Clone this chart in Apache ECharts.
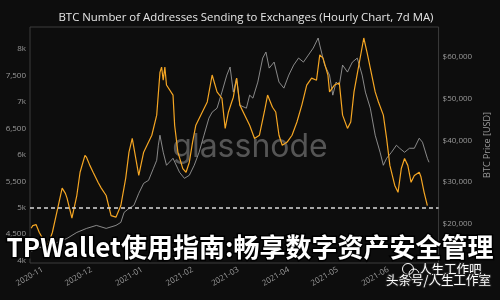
<!DOCTYPE html>
<html><head><meta charset="utf-8">
<script src="https://cdn.jsdelivr.net/npm/echarts@6/dist/echarts.min.js"></script>
<style>html,body{margin:0;padding:0;background:#0d0d0d;}#c{width:500px;height:300px;}</style>
</head><body><div id="c"></div>
<script>
// ---- data ----
var addrDates = ['2020-10-25','2020-10-26','2020-10-28','2020-10-30','2020-11-01','2020-11-03','2020-11-07','2020-11-10','2020-11-13','2020-11-15','2020-11-16','2020-11-19','2020-11-22','2020-11-24','2020-11-27','2020-11-28','2020-11-30','2020-12-02','2020-12-05','2020-12-07','2020-12-10','2020-12-13','2020-12-16','2020-12-19','2020-12-22','2020-12-24','2020-12-26','2020-12-27','2020-12-30','2021-01-02','2021-01-07','2021-01-10','2021-01-12','2021-01-13','2021-01-14','2021-01-15','2021-01-16','2021-01-20','2021-01-21','2021-01-23','2021-01-26','2021-01-28','2021-01-30','2021-02-01','2021-02-03','2021-02-06','2021-02-10','2021-02-13','2021-02-16','2021-02-19','2021-02-21','2021-02-23','2021-02-25','2021-02-26','2021-02-28','2021-03-02','2021-03-05','2021-03-08','2021-03-11','2021-03-14','2021-03-17','2021-03-19','2021-03-22','2021-03-24','2021-03-26','2021-03-28','2021-03-31','2021-04-03','2021-04-06','2021-04-09','2021-04-12','2021-04-15','2021-04-18','2021-04-20','2021-04-22','2021-04-25','2021-04-26','2021-04-29','2021-05-02','2021-05-04','2021-05-07','2021-05-09','2021-05-11','2021-05-14','2021-05-17','2021-05-19','2021-05-21','2021-05-24','2021-05-26','2021-05-29','2021-05-31','2021-06-02','2021-06-05','2021-06-07','2021-06-09','2021-06-11','2021-06-13','2021-06-15','2021-06-17','2021-06-20','2021-06-21','2021-06-23','2021-06-25'];
var addrValues = [4610,4660,4680,4530,4420,4190,4530,4950,5370,5270,5180,4800,5230,5670,5990,5950,5800,5670,5480,5370,5230,4850,4820,5040,5560,6050,6310,6280,5610,6050,6370,6750,7560,7660,7410,7660,7320,7130,6560,6050,5740,5670,5860,6240,6560,6750,7000,7510,7190,7070,6500,6810,7000,7090,7450,6940,6750,6560,6310,6370,6810,7130,6900,6810,6370,6180,6240,6370,6620,6940,7320,7450,7410,7890,7830,7510,7190,7320,7360,6750,6500,6620,7190,7700,8210,7940,7640,7190,7000,6750,6310,5800,5420,5290,5740,5930,5800,5480,5610,5670,5590,5290,5040];

var priceDates = ['2020-10-25','2020-10-30','2020-11-04','2020-11-10','2020-11-16','2020-11-22','2020-11-28','2020-12-04','2020-12-10','2020-12-16','2020-12-19','2020-12-21','2020-12-24','2020-12-27','2020-12-30','2021-01-02','2021-01-05','2021-01-08','2021-01-10','2021-01-11','2021-01-12','2021-01-14','2021-01-16','2021-01-20','2021-01-24','2021-01-27','2021-01-30','2021-02-02','2021-02-05','2021-02-08','2021-02-11','2021-02-13','2021-02-16','2021-02-19','2021-02-22','2021-02-24','2021-02-26','2021-02-28','2021-03-02','2021-03-06','2021-03-08','2021-03-10','2021-03-13','2021-03-16','2021-03-18','2021-03-20','2021-03-23','2021-03-26','2021-03-29','2021-04-01','2021-04-04','2021-04-07','2021-04-10','2021-04-13','2021-04-16','2021-04-19','2021-04-20','2021-04-23','2021-04-26','2021-04-28','2021-04-30','2021-05-02','2021-05-04','2021-05-07','2021-05-10','2021-05-13','2021-05-16','2021-05-18','2021-05-21','2021-05-24','2021-05-27','2021-05-29','2021-05-31','2021-06-03','2021-06-06','2021-06-08','2021-06-11','2021-06-14','2021-06-17','2021-06-20','2021-06-22','2021-06-25','2021-06-26'];
var priceValues = [13250,14220,14460,15420,16390,17830,18800,19520,18800,19520,20240,22650,23610,24340,27230,29640,30360,33250,35180,38800,41200,37110,33980,35660,32290,30840,31570,33980,37110,41200,45300,46750,47710,51570,55660,57590,51570,54940,48430,47710,50840,50120,53980,59760,61200,57350,58790,53980,52530,55660,58070,59760,58790,60480,62170,64580,62890,58070,55660,50840,53980,53250,58070,56390,58790,59760,55660,51570,47710,41200,37110,33980,35660,37110,38800,38070,37110,38070,38070,40480,39520,35660,34700];

var leftTickValues = [4000,4500,5000,5500,6000,6500,7000,7500,8000];
var leftTickLabels = ['4k','4,500','5k','5,500','6k','6,500','7k','7,500','8k'];
var rightTickValues = [20000,30000,40000,50000,60000];
var rightTickLabels = ['$20,000','$30,000','$40,000','$50,000','$60,000'];
var monthTicks = ['2020-11-01','2020-12-01','2021-01-01','2021-02-01','2021-03-01','2021-04-01','2021-05-01','2021-06-01'];
var monthLabels = ['2020-11','2020-12','2021-01','2021-02','2021-03','2021-04','2021-05','2021-06'];
var thresholdValue = 5000;

var titleText = 'BTC Number of Addresses Sending to Exchanges (Hourly Chart, 7d MA)';
var rightAxisName = 'BTC Price [USD]';
var watermarkText = 'glassnode';
var overlayText = 'TPWallet使用指南:畅享数字资产安全管理';
var brandLine1 = '人生工作吧';
var brandLine2 = '头条号/人生工作室';

// ---- helpers ----
function ts(s){
  var p = s.split(/[- :]/).map(Number);
  return new Date(p[0], p[1]-1, p[2], p[3]||0, p[4]||0).getTime();
}
function pairs(d, v){ return d.map(function(x,i){ return [ts(x), v[i]]; }); }
var monthTickTs = monthTicks.map(ts);

var chart = echarts.init(document.getElementById('c'), null, {renderer:'canvas'});
var labelFont = 'Open Sans';
chart.setOption({
  backgroundColor: '#0d0d0d',
  animation: false,
  title: {
    text: titleText, left: 241, textAlign: 'center', top: 7,
    textStyle: {color: '#e6e6e6', fontSize: 11.4, fontWeight: 'normal', fontFamily: labelFont}
  },
  grid: {left: 30, right: 48, top: 27, bottom: 37, show: true, borderColor: '#3c3c3c', borderWidth: 1},
  xAxis: {
    type: 'value', scale: true,
    min: ts('2020-10-24 07:00'), max: ts('2021-07-01 21:00'),
    axisLine: {show: false}, axisTick: {show: false}, splitLine: {show: false},
    axisLabel: {
      customValues: monthTickTs,
      rotate: 30, margin: 6, color: '#9a9a9a', fontSize: 8, fontFamily: labelFont,
      formatter: function(v){ var i = monthTickTs.indexOf(v); return i >= 0 ? monthLabels[i] : ''; }
    }
  },
  yAxis: [{
    type: 'value', position: 'left', min: 3953, max: 8418,
    axisLine: {show: false}, axisTick: {show: false}, splitLine: {show: false},
    axisLabel: {
      customValues: leftTickValues, margin: 4, color: '#9a9a9a', fontSize: 8, fontFamily: labelFont,
      formatter: function(v){ var i = leftTickValues.indexOf(v); return i >= 0 ? leftTickLabels[i] : ''; }
    }
  },{
    type: 'value', position: 'right', min: 10480, max: 67230,
    name: rightAxisName, nameLocation: 'middle', nameGap: 32, nameRotate: 90,
    nameTextStyle: {color: '#9a9a9a', fontSize: 9, fontFamily: labelFont},
    axisLine: {show: false}, axisTick: {show: false}, splitLine: {show: false},
    axisLabel: {
      customValues: rightTickValues, margin: 4, color: '#9a9a9a', fontSize: 8, fontFamily: labelFont,
      formatter: function(v){ var i = rightTickValues.indexOf(v); return i >= 0 ? rightTickLabels[i] : ''; }
    }
  }],
  series: [{
    type: 'line', yAxisIndex: 1, data: pairs(priceDates, priceValues),
    showSymbol: false, z: 2,
    lineStyle: {color: '#a8a8a8', width: 1, opacity: 0.8}
  },{
    type: 'line', yAxisIndex: 0, data: pairs(addrDates, addrValues),
    showSymbol: false, z: 3,
    lineStyle: {color: '#f5a623', width: 1.2},
    markLine: {
      silent: true, symbol: 'none', label: {show: false},
      lineStyle: {color: '#d8d8d8', type: [4,3], width: 1.5},
      data: [{yAxis: thresholdValue}]
    }
  }],
  graphic: [{
    type: 'text', left: 'center', top: 131, z: 0, silent: true,
    style: {text: watermarkText, fill: '#555555', fontSize: 32, fontFamily: 'Inter', fontWeight: 'normal'}
  },{
    type: 'text', left: 'center', top: 233, z: 100, silent: true,
    style: {text: overlayText, fill: '#ffffff', stroke: '#000000', lineWidth: 3,
            fontSize: 26, fontWeight: 'bold', fontFamily: 'Noto Sans CJK SC'}
  },{
    type: 'group', left: 400, top: 261, z: 100, silent: true,
    children: [
      {type: 'circle', shape: {cx: 6, cy: 6, r: 5.5}, style: {fill: 'none', stroke: '#ffffff', lineWidth: 1}},
      {type: 'circle', shape: {cx: 12, cy: 11, r: 5}, style: {fill: 'none', stroke: '#ffffff', lineWidth: 1}}
    ]
  },{
    type: 'text', left: 418, top: 262, z: 100, silent: true,
    style: {text: brandLine1, fill: '#ffffff', stroke: '#222222', lineWidth: 2, fontSize: 12.5, fontFamily: 'Noto Sans CJK SC'}
  },{
    type: 'text', left: 385, top: 273, z: 100, silent: true,
    style: {text: brandLine2, fill: '#ffffff', stroke: '#222222', lineWidth: 2, fontSize: 12.5, fontFamily: 'Noto Sans CJK SC'}
  }]
});
</script></body></html>
